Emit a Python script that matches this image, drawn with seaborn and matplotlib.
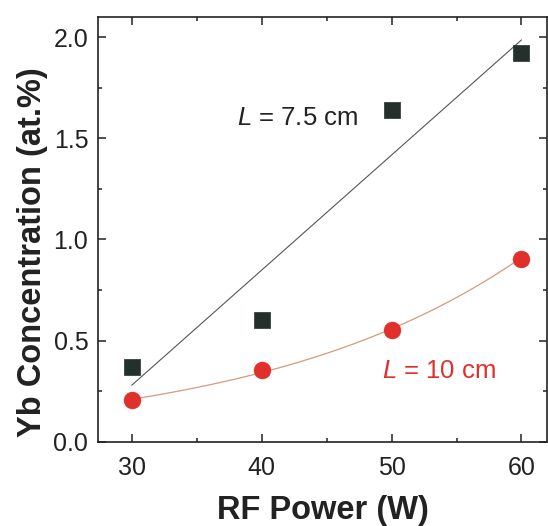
import numpy as np
import pandas as pd
import matplotlib
matplotlib.use("Agg")
import matplotlib.pyplot as plt
import seaborn as sns
from matplotlib.ticker import MultipleLocator

power = [30, 40, 50, 60]
yb_75 = [0.37, 0.60, 1.64, 1.92]
yb_10 = [0.205, 0.355, 0.552, 0.905]
xlabel = "RF Power (W)"
ylabel = "Yb Concentration (at.%)"
label_75 = r"$\mathit{L}$ = 7.5 cm"
label_10 = r"$\mathit{L}$ = 10 cm"

sns.set_style("ticks")
plt.rcParams["font.family"] = ["Liberation Sans", "DejaVu Sans"]
plt.rcParams["mathtext.fontset"] = "custom"
plt.rcParams["mathtext.it"] = "Liberation Sans:italic"
plt.rcParams["mathtext.rm"] = "Liberation Sans"

fig = plt.figure(figsize=(5.48, 5.26), dpi=100)
ax = fig.add_axes([0.1788, 0.1603, 0.8212 - 0.001, 0.968 - 0.1603])

# fits
xf = np.linspace(power[0], power[-1], 200)
lin = np.polyfit(power, yb_75, 1)
df_lin = pd.DataFrame({"x": xf, "y": np.polyval(lin, xf)})
ex = np.polyfit(power, np.log(yb_10), 1)
df_exp = pd.DataFrame({"x": xf, "y": np.exp(np.polyval(ex, xf))})

sns.lineplot(data=df_lin, x="x", y="y", ax=ax, color="#555555", lw=0.8)
sns.lineplot(data=df_exp, x="x", y="y", ax=ax, color="#d49a80", lw=0.9)

df75 = pd.DataFrame({"x": power, "y": yb_75})
df10 = pd.DataFrame({"x": power, "y": yb_10})
sns.scatterplot(data=df75, x="x", y="y", ax=ax, marker="s", s=120,
                color="#25302c", edgecolor="#25302c", linewidth=0.5, zorder=3)
sns.scatterplot(data=df10, x="x", y="y", ax=ax, marker="o", s=150,
                color="#e0302c", edgecolor="#e0302c", linewidth=0.3, zorder=3)

ax.set_xlim(27.4, 62.0)
ax.set_ylim(0, 2.1)
ax.xaxis.set_major_locator(MultipleLocator(10))
ax.xaxis.set_minor_locator(MultipleLocator(5))
ax.yaxis.set_major_locator(MultipleLocator(0.5))
ax.yaxis.set_minor_locator(MultipleLocator(0.25))
ax.yaxis.set_major_formatter(matplotlib.ticker.FormatStrFormatter("%.1f"))

for s in ax.spines.values():
    s.set_visible(True)
    s.set_linewidth(1.2)
    s.set_color("#222222")
ax.tick_params(which="both", direction="in", top=True, right=True,
               color="#222222", width=1.1)
ax.tick_params(which="major", length=6, labelsize=18, labelcolor="#222222")
ax.tick_params(axis="x", which="major", pad=10)
ax.tick_params(axis="y", which="major", pad=7)
ax.tick_params(which="minor", length=3)

ax.set_xlabel(xlabel, fontsize=23.5, fontweight="bold", labelpad=11, color="#222222")
ax.set_ylabel(ylabel, fontsize=23.5, fontweight="bold", color="#222222")
ax.yaxis.set_label_coords(-0.112, 0.446)

ax.text(38.1, 1.60, label_75, fontsize=18.5, color="#222222", va="center")
ax.text(49.3, 0.35, label_10, fontsize=18.5, color="#e0302c", va="center")

fig.savefig("out.png", dpi=100)
